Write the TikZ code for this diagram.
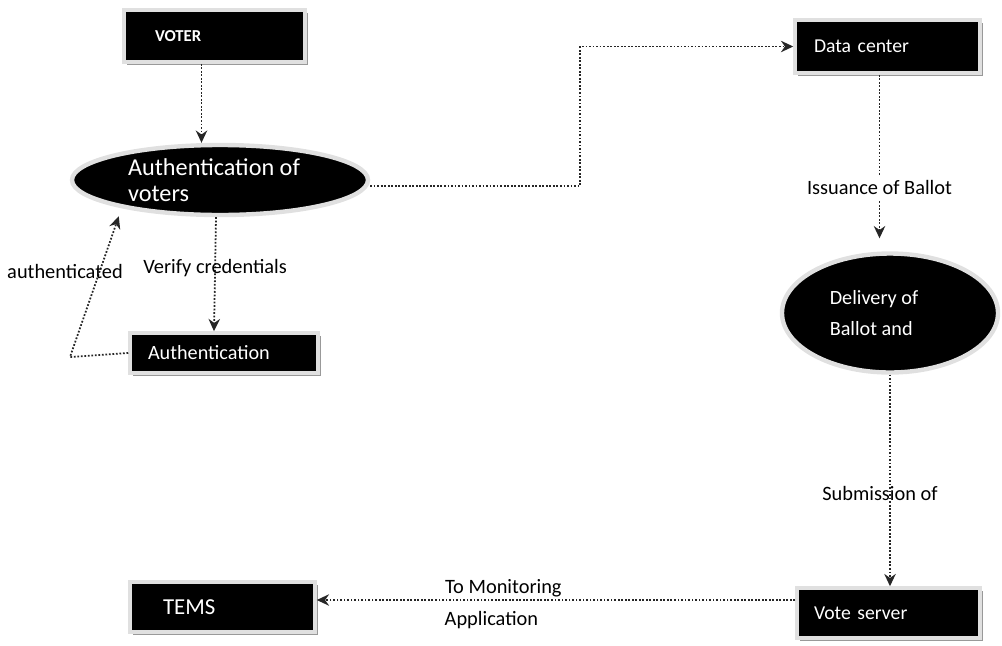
\documentclass[tikz,border=0pt]{standalone}
\usepackage{fontspec}
\setmainfont{Carlito}
\usetikzlibrary{arrows,arrows.meta,shapes,positioning,shadows}

\begin{document}
\begin{tikzpicture}[
  box/.style={rectangle, fill=black, draw=black!12, line width=2pt, text=white,
    align=left, inner xsep=0pt, font=\fontsize{11.2}{13}\selectfont,
    drop shadow={shadow xshift=1.5pt, shadow yshift=-1.5pt, fill=black!40, opacity=1}},
  oval/.style={ellipse, fill=black, draw=black!12, line width=2.5pt, text=white,
    align=left, inner sep=0pt},
  flow/.style={->, >={Stealth[length=7pt,width=6.5pt]}, densely dotted, line width=1pt, black!85},
  lbl/.style={text=black, font=\fontsize{11.6}{13}\selectfont}
]
  \useasboundingbox (0,0) rectangle (20.04,-12.9);

  \node[box, text width=3.62cm, minimum height=1.04cm] (voter) at (4.29,-0.72) {\hspace*{0.62cm}\textbf{\fontsize{9.5}{11}\selectfont VOTER}};
  \node[oval, minimum width=5.92cm, minimum height=1.4cm, font=\fontsize{13.8}{15}\selectfont] (auth) at (4.4,-3.6) {Authentication of\hspace*{0.24cm}\\voters};
  \node[box, text width=3.76cm, minimum height=0.8cm, font=\fontsize{11.5}{13}\selectfont] (check) at (4.48,-7.06) {\hspace*{0.36cm}Authentication};
  \node[box, text width=3.7cm, minimum height=1.06cm] (data) at (17.75,-0.93) {\hspace*{0.38cm}Data center};
  \node[oval, minimum width=4.32cm, minimum height=2.38cm, font=\fontsize{11.5}{17.6}\selectfont] (deliver) at (17.8,-6.26) {Delivery of\hspace*{0.64cm}\\Ballot and};
  \node[box, text width=3.66cm, minimum height=1cm] (vote) at (17.77,-12.26) {\hspace*{0.34cm}Vote server};
  \node[box, text width=3.7cm, minimum height=1cm, font=\fontsize{13}{15}\selectfont] (tems) at (4.45,-12.14) {\hspace*{0.66cm}TEMS};
  \coordinate (back) at (1.4,-7.14);

  \draw[flow] ([xshift=-0.26cm]voter.south) -- ([xshift=-0.26cm]voter.south |- auth.north);
  \draw[flow] ([yshift=-0.12cm]auth.east) -- ++(4.2,0) |- (data.west);
  \draw[flow, shorten >=0.26cm] ([xshift=-0.16cm]data.south) -- ([xshift=-0.16cm]data.south |- deliver.north)
    node[lbl, pos=0.64, fill=white] {Issuance of Ballot};
  \draw[flow] (deliver.south) -- (deliver.south |- vote.north)
    node[lbl, pos=0.56, xshift=-0.2cm] {Submission of};
  \draw[flow] ([yshift=0.26cm]vote.west) -- ([yshift=0.26cm]vote.west -| tems.east)
    node[lbl, pos=0.61, above, inner sep=1pt] {To Monitoring}
    node[lbl, pos=0.635, below, inner sep=6pt] {Application};
  \draw[flow] ([xshift=-0.08cm]auth.south) -- ([xshift=-0.12cm]auth.south |- check.north)
    node[lbl, pos=0.45] {Verify credentials};
  \draw[flow] (check.west) -- (back) -- ([shift={(0.1,-0.2)}]auth.south west);
  \node[lbl] (authlbl) at (1.3,-5.42) {authenticated};
\end{tikzpicture}
\end{document}
